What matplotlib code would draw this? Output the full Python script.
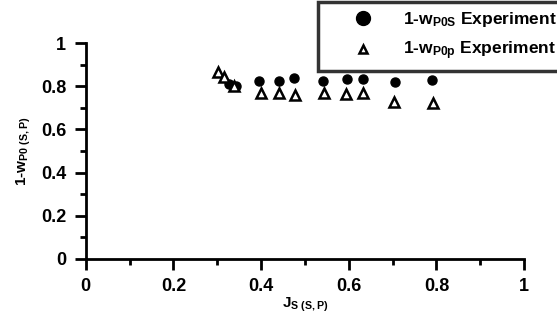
import matplotlib
matplotlib.use("Agg")
import matplotlib.pyplot as plt
from matplotlib.ticker import MultipleLocator

plt.rcParams['font.family'] = ['Liberation Sans', 'DejaVu Sans']
plt.rcParams['mathtext.fontset'] = 'custom'
plt.rcParams['mathtext.rm'] = 'Liberation Sans:bold'
plt.rcParams['mathtext.it'] = 'Liberation Sans:bold'
plt.rcParams['mathtext.bf'] = 'Liberation Sans:bold'

# Data
js_s = [0.327, 0.342, 0.395, 0.441, 0.475, 0.542, 0.595, 0.633, 0.705, 0.789]
w_s = [0.81, 0.80, 0.825, 0.825, 0.836, 0.825, 0.832, 0.833, 0.821, 0.829]
js_p = [0.301, 0.315, 0.338, 0.399, 0.441, 0.478, 0.543, 0.593, 0.633, 0.704, 0.793]
w_p = [0.866, 0.843, 0.80, 0.767, 0.770, 0.759, 0.770, 0.764, 0.767, 0.728, 0.724]
ticks = [0, 0.2, 0.4, 0.6, 0.8, 1]
tick_labels = ['0', '0.2', '0.4', '0.6', '0.8', '1']

fig = plt.figure(figsize=(5.57, 3.34), dpi=100)
ax = fig.add_axes([0.154, 0.225, 0.787, 0.646])

ax.plot(js_s, w_s, 'o', color='black', markersize=6.5, linestyle='none',
        label=r'1-w$_{\mathregular{P0S}}$ Experiment')
ax.plot(js_p, w_p, '^', markerfacecolor='white', markeredgecolor='black',
        markeredgewidth=1.8, markersize=7, linestyle='none',
        label=r'1-w$_{\mathregular{P0p}}$ Experiment')

ax.set_xlim(0, 1)
ax.set_ylim(0, 1)
ax.xaxis.set_minor_locator(MultipleLocator(0.1))
ax.yaxis.set_minor_locator(MultipleLocator(0.1))
ax.set_xticks(ticks)
ax.set_xticklabels(tick_labels)
ax.set_yticks(ticks)
ax.set_yticklabels(tick_labels)

for s in ['top', 'right']:
    ax.spines[s].set_visible(False)
for s in ['left', 'bottom']:
    ax.spines[s].set_linewidth(2)
ax.tick_params(which='major', direction='out', length=8, width=2, labelsize=13, pad=6)
ax.tick_params(which='minor', direction='out', length=4, width=2)
for lab in ax.get_xticklabels() + ax.get_yticklabels():
    lab.set_fontweight('bold')

ax.set_xlabel(r'J$_{\mathregular{S\ (S,P)}}$', fontsize=11, fontweight='bold', labelpad=0)
ax.set_ylabel(r'1-w$_{\mathregular{P0\ (S,P)}}$', fontsize=11, fontweight='bold', labelpad=6)

leg = fig.legend(loc='upper left', bbox_to_anchor=(0.571, 0.995), frameon=True,
                 fancybox=False, fontsize=12.5, handletextpad=0.2, borderpad=0.5,
                 labelspacing=0.6, handlelength=4.2, borderaxespad=0)
leg.get_frame().set_edgecolor('black')
leg.get_frame().set_linewidth(2.5)
for t in leg.get_texts():
    t.set_fontweight('bold')
hs = leg.legend_handles
hs[0].set_markersize(10)
hs[1].set_markersize(6)

fig.savefig('out.png', dpi=100)
